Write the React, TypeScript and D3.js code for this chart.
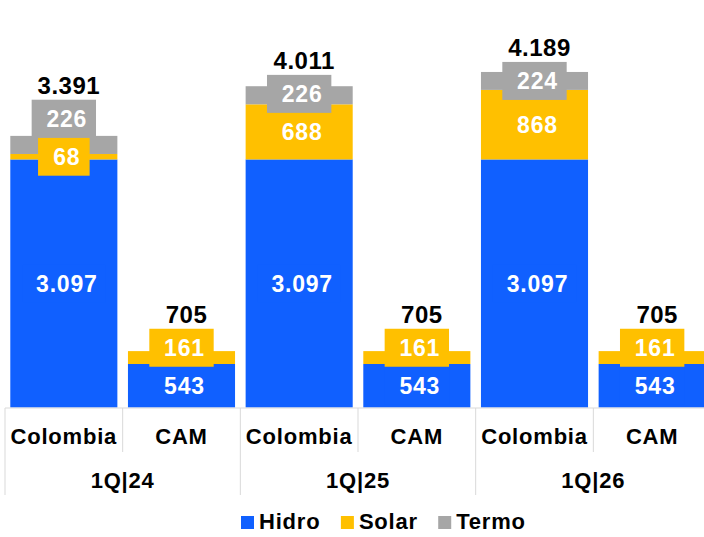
import React from "react";
import * as d3 from "d3";

const periods = ["1Q|24", "1Q|25", "1Q|26"];
const regions = ["Colombia", "CAM"];
const hidro = [3097, 543, 3097, 543, 3097, 543];
const solar = [68, 161, 688, 161, 868, 161];
const termo = [226, 0, 226, 0, 224, 0];
const totalLabels = [3391, 705, 4011, 705, 4189, 705];
const seriesNames = ["Hidro", "Solar", "Termo"];
const seriesColors = ["#1060FF", "#FFC000", "#A6A6A6"];

const W = 704;
const H = 537;
const FONT = "'Liberation Sans', Arial, sans-serif";
const fmt = d3.formatLocale({ decimal: ",", thousands: ".", grouping: [3], currency: ["", ""] }).format(",d");

const charW = (s: string, size: number) => {
  let w = 0;
  for (const c of s) w += c === "." ? 0.278 : 0.556;
  return w * size;
};

export default function App() {
  const n = hidro.length;
  const x = d3.scaleBand<number>().domain(d3.range(n)).range([5, 711]).paddingInner(0.09).paddingOuter(0.045);
  const y = d3.scaleLinear().domain([0, 5000]).range([407.5, 7]);
  const step = x.step();
  const bw = x.bandwidth();
  const series = [hidro, solar, termo];
  const LBL = 23;
  const BOXH = 38;

  const bars = d3.range(n).map((i) => {
    let acc = 0;
    const segs: { y0: number; y1: number; v: number; s: number }[] = [];
    series.forEach((arr, s) => {
      const v = arr[i];
      if (v > 0) {
        segs.push({ y0: y(acc), y1: y(acc + v), v, s });
        acc += v;
      }
    });
    let prevTop = Infinity;
    const labels = segs.map((sg) => {
      let c = (sg.y0 + sg.y1) / 2;
      c = Math.min(c, prevTop - BOXH / 2);
      prevTop = c - BOXH / 2;
      const txt = fmt(sg.v);
      const bwid = charW(txt, LBL) + 26;
      return { c, txt, bwid, s: sg.s };
    });
    const top = Math.min(y(acc), prevTop);
    return { i, segs, labels, top };
  });

  const sepX = d3.range(n + 1).map((k) => 5 + k * step);

  const legendItems = seriesNames.map((name, k) => ({ name, color: seriesColors[k] }));
  let lx = 241;
  const legendPos = legendItems.map((it) => {
    const pos = lx;
    const tw = (it.name === "Hidro" ? 2.611 : it.name === "Solar" ? 2.501 : 3.056) * 22 * 1.06;
    lx += 13 + 5 + tw + 21;
    return pos;
  });

  return (
    <svg width={W} height={H} style={{ position: "absolute", left: 0, top: 0, background: "#fff" }} fontFamily={FONT}>
      {bars.map((b) =>
        b.segs.map((sg, k) => (
          <rect key={`b${b.i}-${k}`} x={x(b.i)} y={sg.y1} width={bw} height={sg.y0 - sg.y1} fill={seriesColors[sg.s]} />
        ))
      )}
      {bars.map((b) =>
        b.labels.map((l, k) => (
          <rect
            key={`lb${b.i}-${k}`}
            x={(x(b.i) as number) + bw / 2 - l.bwid / 2}
            y={l.c - BOXH / 2}
            width={l.bwid}
            height={BOXH}
            fill={seriesColors[l.s]}
          />
        ))
      )}
      {bars.map((b) =>
        b.labels.map((l, k) => (
          <text
            key={`lt${b.i}-${k}`}
            x={(x(b.i) as number) + bw / 2 + 3}
            y={l.c}
            dy="0.36em"
            textAnchor="middle"
            fontSize={LBL}
            fontWeight="bold"
            letterSpacing={0.8}
            fill="#fff"
          >
            {l.txt}
          </text>
        ))
      )}
      {bars.map((b) => (
        <text
          key={`t${b.i}`}
          x={(x(b.i) as number) + bw / 2 + 5}
          y={b.top - 6}
          textAnchor="middle"
          fontSize={24}
          fontWeight="bold"
          letterSpacing={0.5}
          fill="#000"
        >
          {fmt(totalLabels[b.i])}
        </text>
      ))}
      <line x1={5} x2={W} y1={408} y2={408} stroke="#D9D9D9" strokeWidth={1} />
      {sepX.map((sx, k) => (
        <line key={`s${k}`} x1={sx} x2={sx} y1={408} y2={k % 2 === 0 ? 495 : 452} stroke="#D9D9D9" strokeWidth={1} />
      ))}
      {d3.range(n).map((i) => (
        <text
          key={`c${i}`}
          x={(x(i) as number) + bw / 2}
          y={444}
          textAnchor="middle"
          fontSize={22}
          fontWeight="bold"
          letterSpacing={0.8}
          fill="#000"
        >
          {regions[i % 2]}
        </text>
      ))}
      {periods.map((p, g) => (
        <text
          key={`p${g}`}
          x={(sepX[2 * g] + sepX[2 * g + 2]) / 2}
          y={488}
          textAnchor="middle"
          fontSize={22}
          fontWeight="bold"
          letterSpacing={0.8}
          fill="#000"
        >
          {p}
        </text>
      ))}
      {legendItems.map((it, k) => (
        <g key={`lg${k}`}>
          <rect x={legendPos[k]} y={516} width={13} height={13} fill={it.color} />
          <text x={legendPos[k] + 18} y={529} fontSize={22} fontWeight="bold" letterSpacing={0.8} fill="#000">
            {it.name}
          </text>
        </g>
      ))}
    </svg>
  );
}
